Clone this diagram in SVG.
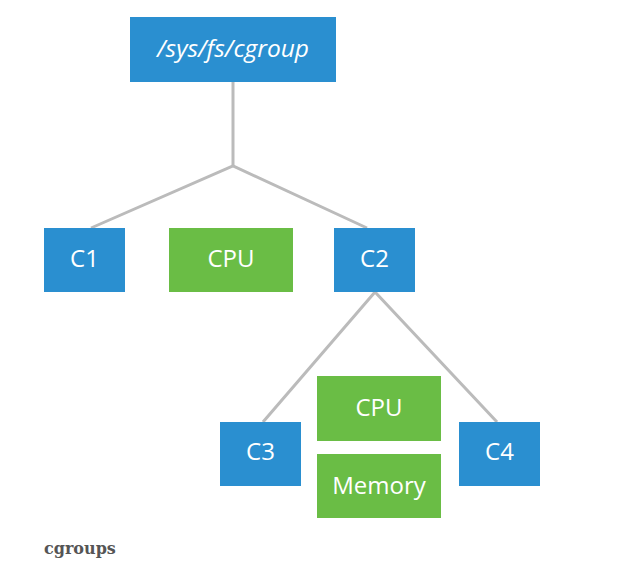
<svg xmlns="http://www.w3.org/2000/svg" width="632" height="580" viewBox="0 0 632 580">
<style>
.blue{fill:#2a8fd0}
.green{fill:#6abd45}
.lbl{font-family:"Open Sans","Noto Sans",sans-serif;font-size:24px;fill:#fff;text-anchor:middle;dominant-baseline:central}
.edge{stroke:#bbbbbb;stroke-width:3;fill:none}
.cap{font-family:"DejaVu Serif",serif;font-weight:bold;font-size:16px;fill:#555}
</style>
<rect width="632" height="580" fill="#fff"/>
<g id="connectors">
<polyline class="edge" points="233,82 233,166"/>
<polyline class="edge" points="91,228 233,166 367,228"/>
<polyline class="edge" points="263,422 375,292 497,422"/>
</g>
<g id="root"><rect class="blue" x="130" y="17" width="206" height="65"/><text class="lbl" x="233" y="47" style="font-style:italic;font-size:24.5px">/sys/fs/cgroup</text></g>
<g id="c1"><rect class="blue" x="44" y="228" width="81" height="64"/><text class="lbl" x="84.5" y="257">C1</text></g>
<g id="cpu1"><rect class="green" x="169" y="228" width="124" height="64"/><text class="lbl" x="231" y="257">CPU</text></g>
<g id="c2"><rect class="blue" x="334" y="228" width="81" height="64"/><text class="lbl" x="374.5" y="257">C2</text></g>
<g id="c3"><rect class="blue" x="220" y="422" width="81" height="64"/><text class="lbl" x="260.5" y="450">C3</text></g>
<g id="cpu2"><rect class="green" x="317" y="376" width="124" height="65"/><text class="lbl" x="379" y="406">CPU</text></g>
<g id="memory"><rect class="green" x="317" y="454" width="124" height="64"/><text class="lbl" x="379" y="484">Memory</text></g>
<g id="c4"><rect class="blue" x="459" y="422" width="81" height="64"/><text class="lbl" x="499.5" y="450">C4</text></g>
<text class="cap" x="44" y="554">cgroups</text>
</svg>
